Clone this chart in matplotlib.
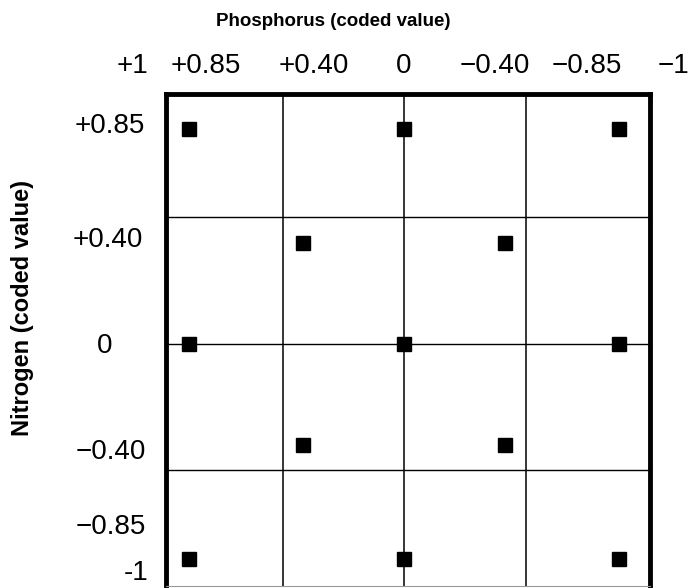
import matplotlib.pyplot as plt
from matplotlib import font_manager

# design points, coded values
phosphorus = [0.85, 0, -0.85, 0.40, -0.40, 0.85, 0, -0.85, 0.40, -0.40, 0.85, 0, -0.85]
nitrogen = [0.85, 0.85, 0.85, 0.40, 0.40, 0, 0, 0, -0.40, -0.40, -0.85, -0.85, -0.85]

x_labels = ['+1', '+0.85', '+0.40', '0', '\u22120.40', '\u22120.85', '\u22121']
y_labels = ['+0.85', '+0.40', '0', '\u22120.40', '\u22120.85', '-1']

x_grid = [0.48, 0, -0.48]
y_grid = [0.5, 0, -0.5]

# where the (schematic) labels sit, in data units
x_lab_pos = [1.075, 0.783, 0.356, 0, -0.360, -0.723, -1.063]
y_lab_pos = [0.862, 0.411, -0.008, -0.427, -0.723, -0.905]
y_lab_x = [1.162, 1.170, 1.182, 1.158, 1.158, 1.059]

fnt = ['Liberation Sans', 'DejaVu Sans']

# condensed bold for the axis titles, if we have it
names = {f.name for f in font_manager.fontManager.ttflist}
if 'Liberation Sans Narrow' in names:
    tfnt, tsize = ['Liberation Sans Narrow', 'DejaVu Sans'], 16
else:
    tfnt, tsize = fnt, 13.5

fig = plt.figure(figsize=(6.91, 5.88), dpi=100)
ax = fig.add_axes([166/691, 2/588, 484/691, 492/588])

for x in x_grid:
    ax.axvline(x, color='black', lw=1.1, zorder=1)
for y in y_grid:
    ax.axhline(y, color='black', lw=1.0, zorder=1)

ax.plot(phosphorus, nitrogen, 's', color='black', markersize=10, zorder=3)

ax.set_xlim(0.941, -0.972)
ax.set_ylim(-0.957, 0.988)
ax.set_xticks([])
ax.set_yticks([])

for s in ['left', 'top', 'right']:
    ax.spines[s].set_linewidth(3.5)
ax.spines['bottom'].set_linewidth(0.8)
ax.spines['bottom'].set_color('#999999')

for lab, xp in zip(x_labels, x_lab_pos):
    ax.text(xp, 1.099, lab, ha='center', va='center', fontsize=20,
            family=fnt, clip_on=False)
for lab, yp, xp in zip(y_labels, y_lab_pos, y_lab_x):
    ax.text(xp, yp, lab, ha='center', va='center', fontsize=20,
            family=fnt, clip_on=False)

fig.text(333/691, 1 - 22/588, 'Phosphorus (coded value)', ha='center',
         va='center', fontsize=tsize, fontweight='bold', family=tfnt)
fig.text(23/691, 1 - 308/588, 'Nitrogen (coded value)', ha='center',
         va='center', rotation=90, fontsize=17, fontweight='bold', family=fnt)

fig.savefig('out.png', dpi=100)
